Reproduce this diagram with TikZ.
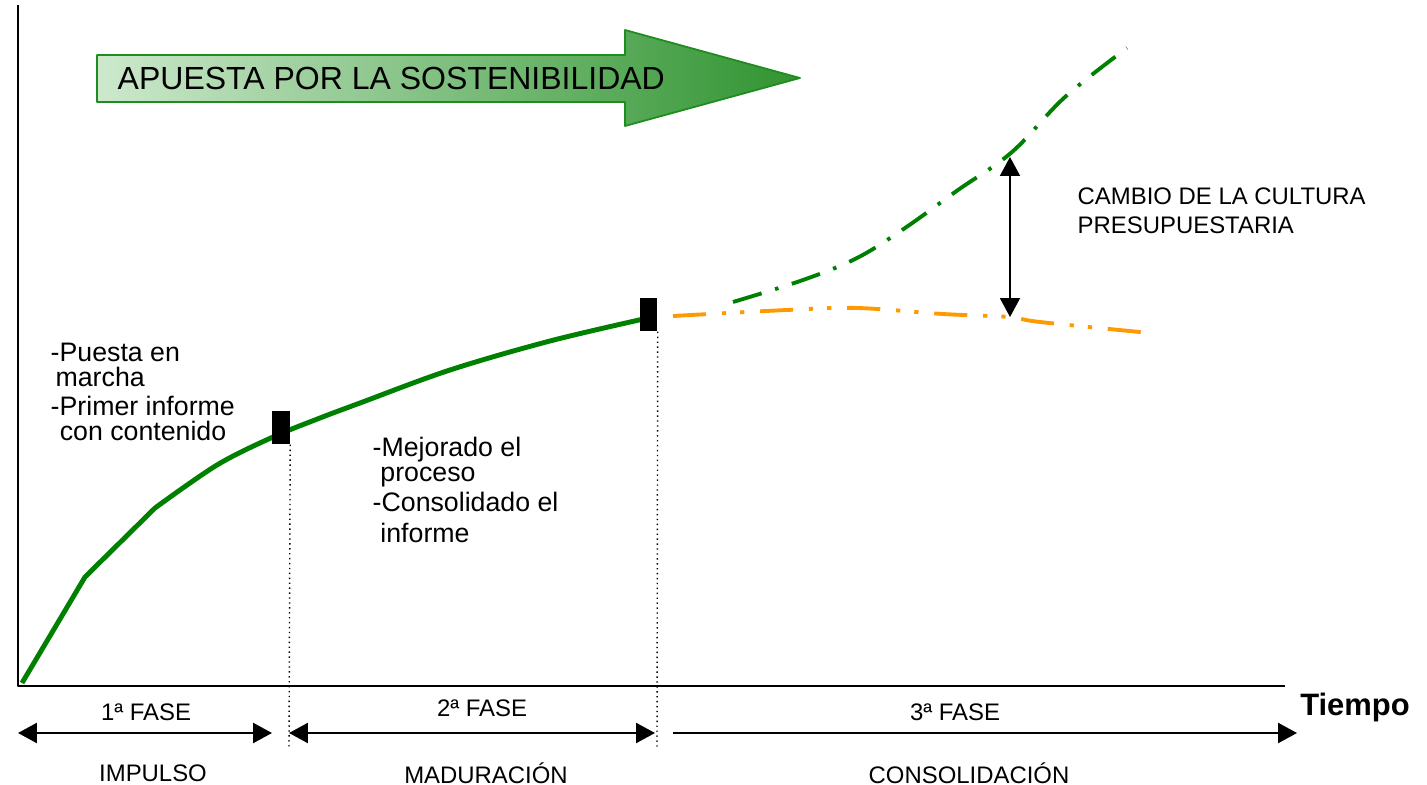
\documentclass[tikz,border=0pt]{standalone}
\usepackage{fontspec}
\setmainfont{Liberation Sans}
\usetikzlibrary{arrows.meta}

\definecolor{verdecurva}{RGB}{0,128,0}
\definecolor{naranja}{RGB}{255,153,0}
\definecolor{verdeclaro}{RGB}{205,233,205}
\definecolor{verdeoscuro}{RGB}{48,148,48}
\definecolor{verdeborde}{RGB}{30,140,30}

\tikzset{
  fase/.style={font=\fontsize{6.8}{8}\selectfont, inner sep=0pt},
  nota/.style={font=\fontsize{7.6}{7.1}\selectfont, align=left, anchor=north west, inner sep=0pt},
  hito/.style={fill=black, inner sep=0pt, minimum width=0.17cm, minimum height=0.33cm},
  punta/.style={Triangle[length=5.4pt,width=5.7pt]},
  dobleflecha/.style={line width=0.65pt, {Triangle[length=5.4pt,width=5.7pt]}-{Triangle[length=5.4pt,width=5.7pt]}},
  flechafin/.style={line width=0.65pt, -{Triangle[length=5.4pt,width=5.7pt]}},
}

\begin{document}
\begin{tikzpicture}[x=0.01cm,y=-0.01cm,line join=round]
\useasboundingbox (0,0) rectangle (1427,785);

% Ejes
\draw[line width=0.45pt] (18,5) -- (18,686) -- (1285,686);
\node[font=\bfseries\fontsize{8.8}{10}\selectfont, inner sep=0pt] (tiempo) at (1355,707) {Tiempo};

% Flecha superior
\path[draw=verdeborde, line width=0.5pt, left color=verdeclaro, right color=verdeoscuro]
  (97,55) -- (625,55) -- (625,30) -- (800,78) -- (625,126) -- (625,102) -- (97,102) -- cycle;
\node[anchor=west, inner sep=0pt, font=\fontsize{9.1}{10}\selectfont] (apuesta) at (117,78) {APUESTA POR LA SOSTENIBILIDAD};

% Curva verde (fases 1 y 2)
\draw[verdecurva, line width=1.4pt] (22,683) -- (85,577) -- (155,508)
  -- plot[smooth, tension=0.55] coordinates {(155,508) (217,465) (273,437) (320,418) (360,403) (450,370) (550,341) (648,318)};

% Prolongaciones de la fase 3
\draw[verdecurva, line width=1.1pt, dash pattern=on 8.5pt off 4pt on 1pt off 4pt]
  plot[smooth, tension=0.6] coordinates {(733,302) (803,280) (857,258) (905,228) (958,190) (1012,152) (1065,97) (1127,48)};
\draw[naranja, line width=1.1pt, dash pattern=on 9.4pt off 4.5pt on 1.2pt off 4pt on 1.2pt off 4.5pt]
  plot[smooth, tension=0.6] coordinates {(673,316) (787,310) (857,308) (943,314) (1009,317) (1040,322) (1150,333)};

% Hitos
\node[hito] (hito1) at (281,427.5) {};
\node[hito] (hito2) at (648.5,314.5) {};
\coordinate (pie1) at (289,748);
\coordinate (pie2) at (657,748);
\draw[densely dotted, line width=0.4pt] (hito1.south east) -- (pie1);
\draw[densely dotted, line width=0.4pt] (hito2.south east) -- (pie2);

% Cambio de la cultura presupuestaria
\coordinate (alto) at (1010,157);
\coordinate (bajo) at (1010,317);
\draw[dobleflecha, line width=0.5pt] (alto) -- (bajo);
\node[nota, font=\fontsize{6.8}{8.2}\selectfont] (cambio) at (1077,187) {CAMBIO DE LA CULTURA\\PRESUPUESTARIA};

% Notas de las fases
\node[nota] (nota1) at (50,342) {-Puesta en\\\hspace*{1.4pt}marcha\\[1.4pt]-Primer informe\\\hspace*{2.6pt}con contenido};
\node[nota] (nota2) at (372,436) {-Mejorado el\\\hspace*{2.2pt}proceso\\[1.6pt]-Consolidado el\\[1.8pt]\hspace*{2.2pt}informe};

% Flechas de las fases
\coordinate (f1a) at (18,733);
\coordinate (f1b) at (272,733);
\coordinate (f2a) at (289,733);
\coordinate (f2b) at (655,733);
\coordinate (f3a) at (673,733);
\coordinate (f3b) at (1297,733);
\draw[dobleflecha] (f1a) -- (f1b);
\draw[dobleflecha] (f2a) -- (f2b);
\draw[flechafin] (f3a) -- (f3b);

\node[fase] (fase1) at (146,712) {1ª FASE};
\node[fase] (fase2) at (482,708) {2ª FASE};
\node[fase] (fase3) at (955,712) {3ª FASE};
\node[fase] (impulso) at (153,773) {IMPULSO};
\node[fase] (maduracion) at (486,773) {MADURACIÓN};
\node[fase] (consolidacion) at (969,773) {CONSOLIDACIÓN};

\end{tikzpicture}
\end{document}
